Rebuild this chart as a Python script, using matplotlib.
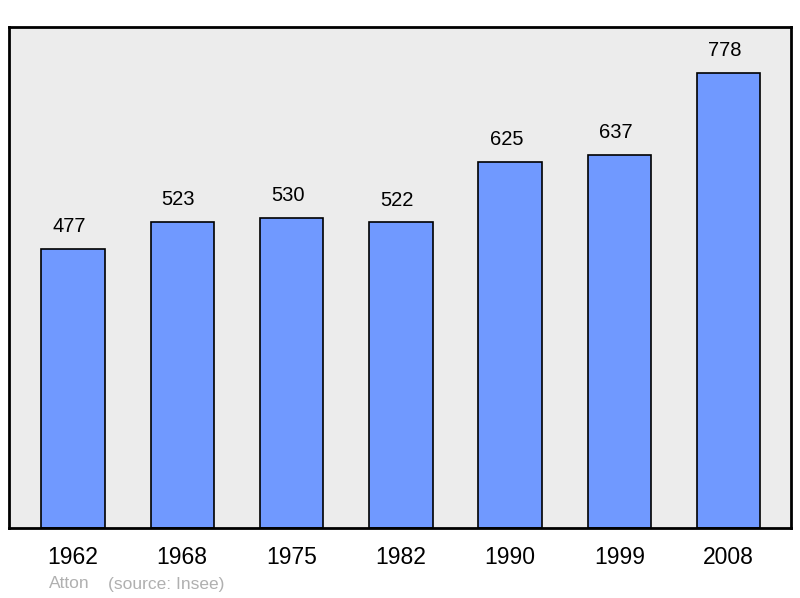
import matplotlib.pyplot as plt
import numpy as np

plt.rcParams['font.family'] = ['Liberation Sans', 'DejaVu Sans']

years = ['1962', '1968', '1975', '1982', '1990', '1999', '2008']
population = [477, 523, 530, 522, 625, 637, 778]

fig = plt.figure(figsize=(8, 5.98), dpi=100)
ax = fig.add_axes([9 / 800, 1 - 528 / 598, 782 / 800, 501 / 598])
ax.set_facecolor('#ececec')

x = np.arange(len(years))
ax.bar(x, population, width=0.58, color='#7099ff', edgecolor='black', linewidth=1.2, zorder=2)
for xi, v in zip(x, population):
    ax.text(xi - 0.035, v + 22, str(v), ha='center', va='bottom', fontsize=14.5, color='black')

ax.set_xlim(-0.585, 6.57)
ax.set_ylim(0, 856)
ax.set_xticks(x)
ax.set_xticklabels(years, fontsize=16.5)
ax.tick_params(axis='x', length=0, pad=13)
ax.set_yticks([])
for s in ax.spines.values():
    s.set_linewidth(2)

fig.text(49 / 800, 1 - 584 / 598, 'Atton', color='#b0b0b0', fontsize=12.5, va='center')
fig.text(108 / 800, 1 - 584 / 598, '(source: Insee)', color='#b0b0b0', fontsize=12.5, va='center')

fig.savefig('out.png', dpi=100)
